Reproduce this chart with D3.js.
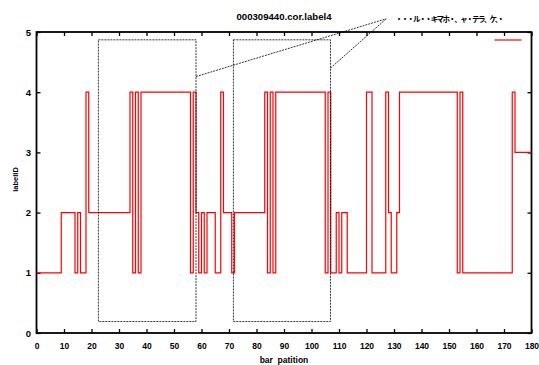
<!DOCTYPE html>
<html>
<head>
<meta charset="utf-8">
<script src="https://cdn.jsdelivr.net/npm/d3@7"></script>
<style>
  body { margin: 0; background: #fff; }
  text { font-family: "Liberation Sans", Arial, sans-serif; font-weight: bold; }
</style>
</head>
<body>
<div id="chart"></div>
<script>
// labelID for each bar partition (index = partition)
const labelIDs = [
  1,1,1,1,1,1,1,1,1,2,
  2,2,2,2,1,2,1,1,4,2,
  2,2,2,2,2,2,2,2,2,2,
  2,2,2,2,4,1,4,1,4,4,
  4,4,4,4,4,4,4,4,4,4,
  4,4,4,4,4,4,1,4,2,1,
  2,1,2,2,2,1,1,4,2,2,
  2,1,2,2,2,2,2,2,2,2,
  2,2,2,4,1,4,1,4,4,4,
  4,4,4,4,4,4,4,4,4,4,
  4,4,4,4,4,1,4,1,1,2,
  1,2,2,1,1,1,1,1,1,1,
  4,4,1,1,1,1,1,4,2,1,
  1,2,4,4,4,4,4,4,4,4,
  4,4,4,4,4,4,4,4,4,4,
  4,4,4,1,4,1,1,1,1,1,
  1,1,1,1,1,1,1,1,1,1,
  1,1,1,4,3,3,3,3,3,3,
  3
];

const xTicks = d3.range(0, 181, 10);
const yTicks = [0, 1, 2, 3, 4, 5];

// dotted zoom boxes and the pointer lines to the note label
const zoomBoxes = [
  {x0: 22.5, x1: 58.0, y0: 0.19, y1: 4.87},
  {x0: 71.6, x1: 106.9, y0: 0.19, y1: 4.87}
];
const pointerFrom = [[58.0, 4.26], [106.9, 4.40]];
const pointerTo = [127.2, 5.22];

const chartTitle = "000309440.cor.label4";
const noteText = "・・・ル・・キマホ・、ャ・テラ、ケ、・";

const margin = {top: 32, right: 7.5, bottom: 32, left: 36.5},
      width = 539 - margin.left - margin.right,
      height = 365 - margin.top - margin.bottom;

const svg = d3.select("#chart").append("svg")
    .attr("width", 539)
    .attr("height", 365)
  .append("g")
    .attr("transform", `translate(${margin.left},${margin.top})`);

const x = d3.scaleLinear().domain([0, 180]).range([0, width]);
const y = d3.scaleLinear().domain([0, 5]).range([height, 0]);

// axes, ticks pointing inward
const xAxis = svg.append("g")
    .attr("transform", `translate(0,${height})`)
    .call(d3.axisBottom(x).tickValues(xTicks).tickSize(-4).tickPadding(10));
svg.append("g")
    .call(d3.axisTop(x).tickValues(xTicks).tickSize(-4).tickFormat(""));
const yAxis = svg.append("g")
    .call(d3.axisLeft(y).tickValues(yTicks).tickSize(-4).tickPadding(5.5)
        .tickFormat(d3.format("d")));
svg.append("g")
    .attr("transform", `translate(${width},0)`)
    .call(d3.axisRight(y).tickValues(yTicks).tickSize(-4).tickFormat(""));

svg.selectAll(".domain").remove();
svg.selectAll(".tick line").attr("stroke", "#000").attr("stroke-width", 1.3);
xAxis.selectAll(".tick text").attr("font-size", 8.5).attr("fill", "#000");
yAxis.selectAll(".tick text").attr("font-size", 9.5).attr("fill", "#000");

// plot border
svg.append("rect")
    .attr("width", width)
    .attr("height", height)
    .attr("fill", "none")
    .attr("stroke", "#000")
    .attr("stroke-width", 1.8);

// step line
const line = d3.line()
    .x((d, i) => x(i))
    .y(d => y(d))
    .curve(d3.curveStepAfter);

svg.append("path")
    .datum(labelIDs)
    .attr("d", line)
    .attr("fill", "none")
    .attr("stroke", "#ff0000")
    .attr("stroke-width", 1.2);

// zoom boxes
svg.selectAll(".zbox")
    .data(zoomBoxes)
    .enter()
    .append("rect")
    .attr("x", d => x(d.x0))
    .attr("y", d => y(d.y1))
    .attr("width", d => x(d.x1) - x(d.x0))
    .attr("height", d => y(d.y0) - y(d.y1))
    .attr("fill", "none")
    .attr("stroke", "#000")
    .attr("stroke-width", 0.8)
    .attr("stroke-dasharray", "2,1");

pointerFrom.forEach(p => {
    svg.append("line")
        .attr("x1", x(p[0]))
        .attr("y1", y(p[1]))
        .attr("x2", x(pointerTo[0]))
        .attr("y2", y(pointerTo[1]))
        .attr("stroke", "#000")
        .attr("stroke-width", 0.8)
        .attr("stroke-dasharray", "2,1");
});

// note label
svg.append("text")
    .attr("x", x(pointerTo[0]) + 9)
    .attr("y", y(pointerTo[1]) + 3)
    .attr("font-size", 7.5)
    .attr("letter-spacing", -1.6)
    .style("font-family", "'Noto Sans CJK JP', sans-serif")
    .text(noteText);

// title
svg.append("text")
    .attr("x", width / 2)
    .attr("y", -12)
    .attr("text-anchor", "middle")
    .attr("font-size", 9.6)
    .text(chartTitle);

// legend key
svg.append("line")
    .attr("x1", width - 37)
    .attr("x2", width - 10)
    .attr("y1", 8)
    .attr("y2", 8)
    .attr("stroke", "#ff0000")
    .attr("stroke-width", 1.2);

// axis labels
svg.append("text")
    .attr("x", width / 2)
    .attr("y", height + margin.bottom - 2)
    .attr("text-anchor", "middle")
    .attr("font-size", 8.5)
    .style("white-space", "pre")
    .text("bar  patition");

svg.append("text")
    .attr("transform", "rotate(-90)")
    .attr("x", -height / 2 + 3)
    .attr("y", -margin.left + 18)
    .attr("text-anchor", "middle")
    .attr("font-size", 7.5)
    .text("labelID");
</script>
</body>
</html>
